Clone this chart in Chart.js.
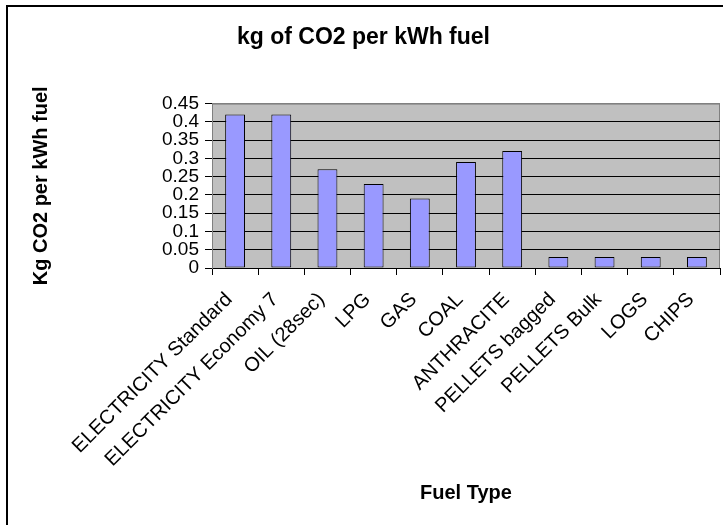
<!DOCTYPE html>
<html>
<head>
<meta charset="utf-8">
<script src="https://cdn.jsdelivr.net/npm/chart.js@4/dist/chart.umd.min.js"></script>
<style>
  html, body { margin: 0; padding: 0; background: #fff; }
  #frame { position: absolute; left: 6px; top: 5px; width: 730px; height: 540px;
           border-left: 2px solid #000; border-top: 2px solid #000; }
  #grafica { position: absolute; left: 0; top: 0; }
</style>
</head>
<body>
<div id="frame"></div>
<canvas id="grafica" width="723" height="525"></canvas>
<script>
const combustibles = [
  'ELECTRICITY Standard', 'ELECTRICITY Economy 7', 'OIL (28sec)', 'LPG', 'GAS',
  'COAL', 'ANTHRACITE', 'PELLETS bagged', 'PELLETS Bulk', 'LOGS', 'CHIPS'
];
const co2PorKwh = [0.42, 0.42, 0.27, 0.23, 0.19, 0.29, 0.32, 0.03, 0.03, 0.03, 0.03];
const yMax = 0.45;
const yPaso = 0.05;

const fuente = "'Liberation Sans', Arial, sans-serif";

// fondo gris del área de trazado, como en Excel
const fondoPlot = {
  id: 'fondoPlot',
  beforeDraw(chart) {
    const { ctx, chartArea: a } = chart;
    ctx.save();
    ctx.fillStyle = '#c0c0c0';
    ctx.fillRect(a.left, a.top, a.right - a.left, a.bottom - a.top);
    ctx.strokeStyle = '#808080';
    ctx.lineWidth = 1;
    ctx.strokeRect(a.left + 0.5, a.top + 0.5, a.right - a.left - 1, a.bottom - a.top);
    ctx.restore();
  }
};

const ctx = document.getElementById('grafica').getContext('2d');

const chart = new Chart(ctx, {
  type: 'bar',
  data: {
    labels: combustibles,
    datasets: [{
      data: co2PorKwh,
      backgroundColor: '#9999ff',
      borderColor: '#000',
      borderWidth: 1,
      borderSkipped: false,
      categoryPercentage: 1,
      barPercentage: 0.43
    }]
  },
  options: {
    responsive: false,
    animation: false,
    devicePixelRatio: 1,
    layout: { padding: { left: 7, top: 6, right: 3, bottom: 0 } },
    plugins: {
      legend: { display: false },
      tooltip: { enabled: false },
      title: {
        display: true,
        text: 'kg of CO2 per kWh fuel',
        color: '#000',
        font: { family: fuente, size: 23, weight: 'bold' },
        padding: { top: 18, bottom: 52 }
      }
    },
    scales: {
      x: {
        grid: { offset: true, drawOnChartArea: false, drawTicks: true, tickLength: 7, color: '#000' },
        border: { color: '#000', width: 1 },
        ticks: {
          autoSkip: false, maxRotation: 45, minRotation: 45, padding: 13, labelOffset: -6,
          color: '#000', font: { family: fuente, size: 20 }
        },
        title: {
          display: true, text: 'Fuel Type', color: '#000',
          font: { family: fuente, size: 20, weight: 'bold' },
          padding: { top: 0, bottom: 20 }
        },
        afterFit(scale) {
          scale.height = 257;
          scale.paddingRight = 0;
        }
      },
      y: {
        min: 0,
        max: yMax,
        grid: {
          color: c => (c.tick && Math.abs(c.tick.value - yMax) < 1e-9) ? '#808080' : '#000',
          tickColor: '#000',
          tickLength: 7
        },
        border: { color: '#808080', width: 1 },
        ticks: {
          stepSize: yPaso, autoSkip: false, padding: 6, color: '#000',
          font: { family: fuente, size: 19, lineHeight: 1 },
          callback: v => String(parseFloat(Number(v).toFixed(2)))
        },
        title: {
          display: true, text: 'Kg CO2 per kWh fuel', color: '#000',
          font: { family: fuente, size: 20, weight: 'bold' },
          padding: { top: 22, bottom: 0 }
        },
        afterFit(scale) { scale.width = 205; }
      }
    }
  },
  plugins: [fondoPlot]
});
</script>
</body>
</html>
